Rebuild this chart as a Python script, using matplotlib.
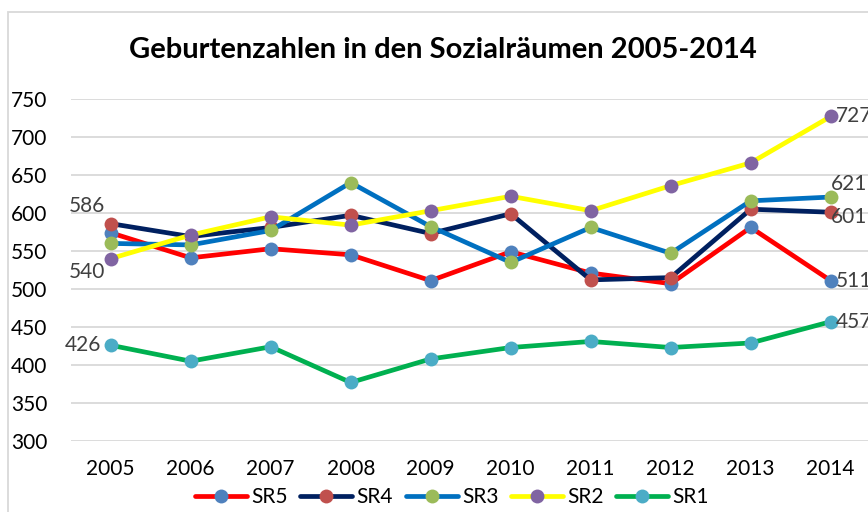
import matplotlib
matplotlib.use("Agg")
from matplotlib import pyplot as plt
from matplotlib.patches import Rectangle

plt.rcParams['font.family'] = ['Lato', 'DejaVu Sans']

years = [2005, 2006, 2007, 2008, 2009, 2010, 2011, 2012, 2013, 2014]
sr5 = [574, 541, 553, 545, 511, 549, 521, 507, 581, 511]
sr4 = [586, 569, 581, 597, 573, 599, 512, 515, 605, 601]
sr3 = [560, 558, 577, 640, 582, 535, 581, 547, 616, 621]
sr2 = [540, 571, 595, 584, 603, 622, 603, 636, 666, 727]
sr1 = [426, 405, 424, 377, 408, 423, 431, 423, 429, 457]

series = [sr5, sr4, sr3, sr2, sr1]
names = ['SR5', 'SR4', 'SR3', 'SR2', 'SR1']
line_colors = ['#FF0000', '#002060', '#0070C0', '#FFFF00', '#00B050']
marker_colors = ['#4F81BD', '#C0504D', '#9BBB59', '#8064A2', '#4BACC6']

# which points get a data label: (series index, point index, dx, dy, ha) offsets in pt
labels = [
    (1, 0, -4, 13, 'right'),
    (3, 0, -4, -10, 'right'),
    (4, 0, -7, 0, 'right'),
    (3, 9, 4, 0, 'left'),
    (2, 9, 0, 9.5, 'left'),
    (1, 9, 0, -3.6, 'left'),
    (0, 9, 4, 0, 'left'),
    (4, 9, 4, 0, 'left'),
]

fig = plt.figure(figsize=(8.68, 5.12), dpi=100)
ax = fig.add_axes([70.7 / 868, 1 - 441 / 512, 800 / 868, 342 / 512])

x = list(range(len(years)))
for s, n, lc, mc in zip(series, names, line_colors, marker_colors):
    ax.plot(x, s, color=lc, lw=3.4, marker='o', markersize=10,
            markerfacecolor=mc, markeredgewidth=0, label=n,
            solid_capstyle='round', solid_joinstyle='round')

for si, pi, dx, dy, ha in labels:
    ax.annotate(str(series[si][pi]), (x[pi], series[si][pi]),
                xytext=(dx, dy), textcoords='offset points',
                ha=ha, va='center', fontsize=15, color='#404040',
                annotation_clip=False)

ax.set_xlim(-0.5, 9.5)
ax.set_ylim(300, 750)
ax.set_yticks(range(300, 751, 50))
ax.set_xticks(x)
ax.set_xticklabels([str(y) for y in years])
ax.tick_params(axis='both', length=0, labelsize=15)
ax.tick_params(axis='y', pad=17)
ax.tick_params(axis='x', pad=13)
ax.grid(axis='y', color='#D9D9D9', lw=1.3)
ax.set_axisbelow(True)
for sp in ax.spines.values():
    sp.set_visible(False)

fig.text(443 / 868, 1 - 50 / 512, 'Geburtenzahlen in den Sozialräumen 2005-2014',
         ha='center', va='center', fontsize=21, fontweight='bold')

fig.legend(loc='center', bbox_to_anchor=(452 / 868, 1 - 497 / 512), ncol=5,
           frameon=False, fontsize=15, handlelength=2.5, handletextpad=0.2,
           columnspacing=0.6)

fig.patches.append(Rectangle((8 / 868, -0.1), 1.2, 1 - 12 / 512 + 0.1,
                             transform=fig.transFigure, fill=False,
                             edgecolor='#D9D9D9', lw=1.3))

fig.savefig('out.png', dpi=100)
